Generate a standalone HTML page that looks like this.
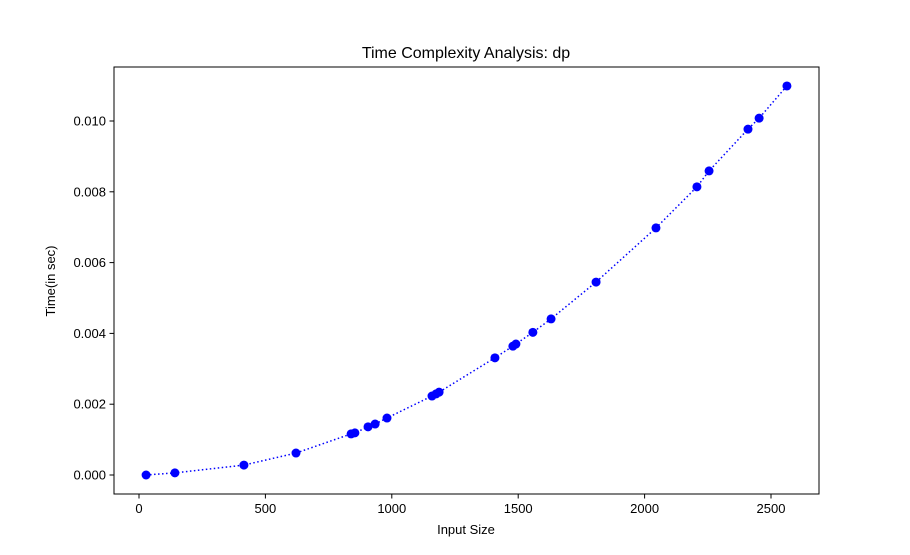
<!DOCTYPE html>
<html><head><meta charset="utf-8"><style>
html,body{margin:0;padding:0;background:#fff;}
svg{display:block;font-family:"Liberation Sans","DejaVu Sans",sans-serif;}
</style></head><body>
<svg id="chart" width="910" height="555" viewBox="0 0 910 555">
<rect width="910" height="555" fill="#fff"/>
<text x="466" y="58" text-anchor="middle" font-size="16">Time Complexity Analysis: dp</text>
<text x="466" y="534" text-anchor="middle" font-size="13">Input Size</text>
<text x="55" y="281" text-anchor="middle" font-size="13" transform="rotate(-90 55 281)">Time(in sec)</text>
<g id="plot"></g>
<rect x="114" y="67" width="705" height="427" fill="none" stroke="#000" stroke-width="1"/>
</svg>
<script>
const xs = [28,142,415,621,839,854,906,934,981,1159,1175,1187,1408,1479,1491,1558,1630,1808,2045,2207,2255,2409,2453,2563];
const ys = [0,0.00006,0.00028,0.00062,0.00116,0.00119,0.00136,0.00144,0.00161,0.00223,0.00229,0.00234,0.00331,0.00364,0.0037,0.00403,0.00441,0.00545,0.00698,0.00814,0.00859,0.00977,0.01008,0.01099];
const xTicks = [0,500,1000,1500,2000,2500];
const yTicks = [0,0.002,0.004,0.006,0.008,0.010];
const yTickLabels = ["0.000","0.002","0.004","0.006","0.008","0.010"];
const NS="http://www.w3.org/2000/svg";
function X(v){return 139+v*0.2528;}
function Y(v){return 475-v*35400;}
const g=document.getElementById('plot');
function mk(t,a){const e=document.createElementNS(NS,t);for(const k in a)e.setAttribute(k,a[k]);g.appendChild(e);return e;}
xTicks.forEach((t,i)=>{
  const l=mk('line',{x1:X(t),x2:X(t),y1:494,y2:498.5,stroke:'#000'});
  
  
  const tx=mk('text',{x:X(t),y:513,'text-anchor':'middle','font-size':13});
  tx.textContent=String(t);
  
  
});
yTicks.forEach((t,i)=>{
  const l=mk('line',{x1:109.5,x2:114,y1:Y(t),y2:Y(t),stroke:'#000'});
  
  
  const tx=mk('text',{x:106,y:Y(t)+4.5,'text-anchor':'end','font-size':13});
  tx.textContent=yTickLabels[i];
  
  
});
const pts=xs.map((x,i)=>X(x)+','+Y(ys[i])).join(' ');
const pl=mk('polyline',{points:pts,fill:'none',stroke:'#0000ff','stroke-width':1.5,'stroke-dasharray':'1.5,2.5'});


xs.forEach((x,i)=>{
  const c=mk('circle',{cx:X(x),cy:Y(ys[i]),r:4.5,fill:'#0000ff'});
  
  
});
</script>
</body></html>
